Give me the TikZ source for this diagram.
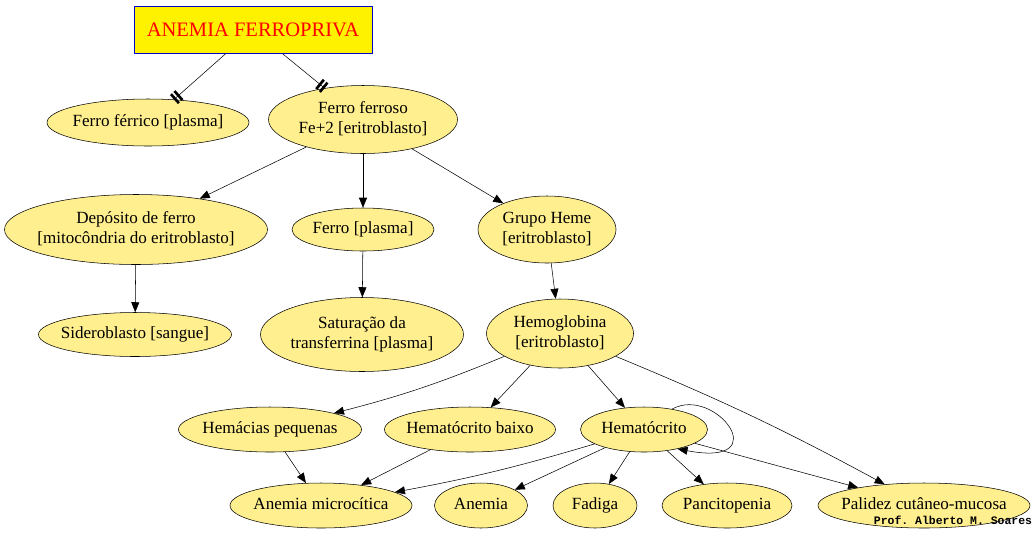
\documentclass[tikz,border=0pt]{standalone}
\usepackage{fontspec}
\setmainfont{Liberation Serif}
\setmonofont{Liberation Mono}
\usetikzlibrary{shapes.geometric,arrows.meta}
\definecolor{ouro}{HTML}{FFEF8F}
\definecolor{azul}{HTML}{0000CC}
\tikzstyle{estado}=[ellipse, draw, thin, fill=ouro, inner sep=0pt,
  font=\fontsize{12.8}{15}\selectfont]
\tikzstyle{titulo}=[draw=azul, line width=0.75pt, fill=yellow, text=red,
  minimum width=178.5pt, minimum height=35.25pt,
  font=\fontsize{15.4}{18}\selectfont]
\tikzstyle{assina}=[font=\ttfamily\bfseries\fontsize{8.6}{10}\selectfont]
\tikzstyle{line} = [draw, thin, -{Triangle[length=7.5pt,width=6pt]}]
\tikzstyle{linebar} = [draw, thin,
  -{Bar[width=9pt,line width=2pt,sep=1.5pt]Bar[width=9pt,line width=2pt]}]
% elipse com tamanho fixo, o texto nao alarga a forma
\newcommand{\bolha}[4]{node (#1) [estado, minimum width=#2,
  minimum height=#3]
  {\makebox[0pt]{\begin{tabular}{@{}c@{}}#4\end{tabular}}}}

\begin{document}
\begin{tikzpicture}[x=0.75pt,y=0.75pt]
  \useasboundingbox (0,0) rectangle (1034,-533);

  % Draw diagram elements
  % topo
  \node (ANEMIA) [titulo] at (253,-29.5) {ANEMIA FERROPRIVA};
  \path (ANEMIA.center)+(-105,-93) \bolha{FERRICO}{151.5pt}{35.25pt}{Ferro férrico [plasma]};
  \path (ANEMIA.center)+(110,-90) \bolha{FERROSO}{141.75pt}{51pt}{Ferro ferroso\\Fe+2 [eritroblasto]};

  % segundo nivel
  \path (FERROSO.center)+(0,-110) \bolha{FPLASMA}{106.5pt}{32.25pt}{Ferro [plasma]};
  \path (FPLASMA.center)+(-227,0) \bolha{DEPOSITO}{197.25pt}{52.5pt}{Depósito de ferro\\{}[mitocôndria do eritroblasto]};
  \path (FPLASMA.center)+(184,0) \bolha{HEME}{103.5pt}{50.25pt}{Grupo Heme\\{}[eritroblasto]};

  % terceiro nivel
  \path (DEPOSITO.center)+(-1,-105) \bolha{SIDERO}{144.75pt}{33pt}{Sideroblasto [sangue]};
  \path (FPLASMA.center)+(-1,-105) \bolha{SATURA}{152.25pt}{55.5pt}{Saturação da\\transferrina [plasma]};
  \path (HEME.center)+(13,-104) \bolha{HEMOGLO}{110.25pt}{51.75pt}{Hemoglobina\\{}[eritroblasto]};

  % quarto nivel
  \path (HEMOGLO.center)+(84,-96) \bolha{HEMATO}{95.25pt}{33.75pt}{Hematócrito};
  \path (HEMATO.center)+(-174,0) \bolha{HTBAIXO}{128.25pt}{33.75pt}{Hematócrito baixo};
  \path (HTBAIXO.center)+(-200,0) \bolha{HEMACIAS}{137.25pt}{33.75pt}{Hemácias pequenas};

  % ultimo nivel
  \path (HEMATO.center)+(-163,-76) \bolha{ANEMIA2}{69.75pt}{33.75pt}{Anemia};
  \path (ANEMIA2.center)+(-160,0) \bolha{ANMICRO}{136.5pt}{33.75pt}{Anemia microcítica};
  \path (ANEMIA2.center)+(114,0) \bolha{FADIGA}{63pt}{33.75pt}{Fadiga};
  \path (FADIGA.center)+(132,0) \bolha{PANCITO}{97.5pt}{33.75pt}{Pancitopenia};
  \path (PANCITO.center)+(197,0) \bolha{PALIDEZ}{159pt}{33.75pt}{Palidez cutâneo-mucosa};

  % Draw arrows between elements
  \path [linebar] (ANEMIA) -- (FERRICO);
  \path [linebar] (ANEMIA) -- (FERROSO);

  \path [line] (FERROSO) -- (DEPOSITO);
  \path [line] (FERROSO) -- (FPLASMA);
  \path [line] (FERROSO) -- (HEME);
  \path [line] (DEPOSITO) -- (SIDERO);
  \path [line] (FPLASMA) -- (SATURA);
  \path [line] (HEME) -- (HEMOGLO);

  \path [line] (HEMOGLO) to[bend left=4] (HEMACIAS);
  \path [line] (HEMOGLO) -- (HTBAIXO);
  \path [line] (HEMOGLO) -- (HEMATO);
  \path [line] (HEMOGLO) to[bend left=3] (PALIDEZ);

  \path [line] (HEMACIAS) -- (ANMICRO);
  \path [line] (HTBAIXO) -- (ANMICRO);
  \path [line] (HEMATO) to[bend left=3] (ANMICRO);
  \path [line] (HEMATO) -- (ANEMIA2);
  \path [line] (HEMATO) -- (FADIGA);
  \path [line] (HEMATO) -- (PANCITO);
  \path [line] (HEMATO) -- (PALIDEZ);
  \path [line] (HEMATO.36) .. controls +(43,24) and +(100,-19) .. (HEMATO.-30);

  % assinatura
  \path (PALIDEZ.center)+(29,-15) node (ASSINATURA) [assina] {Prof. Alberto M. Soares};

\end{tikzpicture}
\end{document}
